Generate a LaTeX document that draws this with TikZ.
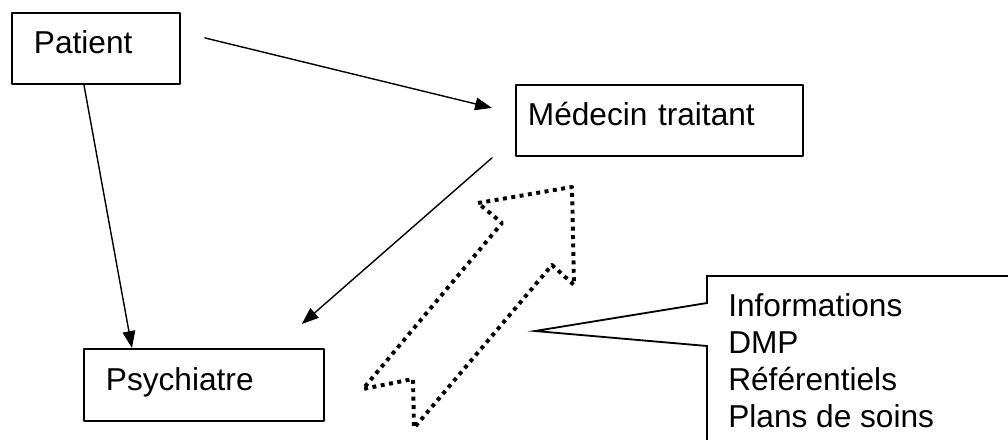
\documentclass[tikz,border=0pt]{standalone}
\usepackage{fontspec}
\setmainfont{Liberation Sans}
\usetikzlibrary{arrows.meta,positioning}

\begin{document}
\begin{tikzpicture}[line cap=round,line join=round,x=0.025cm,y=-0.025cm,
	every node/.style={font=\fontsize{22.5pt}{26.3pt}\selectfont},
	box/.style={draw,line width=1.3pt,anchor=north west,align=left,
		text height=15pt,text depth=7.5pt,minimum height=1.8cm},
	arr/.style={-{Triangle[length=12pt,width=9pt]},line width=1pt},
	dotarrow/.style={line width=2.8pt,line cap=butt,dash pattern=on 2.8pt off 3.2pt}]

\useasboundingbox (0,0) rectangle (1008,440);

% boxes
\node[box,inner xsep=0.55cm,text width=3.1cm,minimum height=1.775cm] (patient) at (11,12) {Patient};
\node[box,inner xsep=0.3cm,text width=6.575cm,minimum height=1.775cm] (medecin) at (515,84) {Médecin traitant};
\node[box,inner xsep=0.55cm,text width=4.9cm] (psychiatre) at (83,348) {Psychiatre};

% arrows between boxes
\draw[arr] ([shift={(24,-10.5)}]patient.east) -- ([shift={(-23,-12.5)}]medecin.west);
\draw[arr] ([shift={(-12,0)}]patient.south) -- ([shift={(-72,0)}]psychiatre.north);
\draw[arr] ([shift={(-23,1)}]medecin.south west) -- ([shift={(-23,-24)}]psychiatre.north east);

% dotted double arrow
\draw[dotarrow] (478,203) -- (572,187) -- (574,285) -- (552,265) -- (414,428)
	-- (413,379) -- (363,389) -- (502,223) -- cycle;

% callout
\draw[line width=1.3pt,line join=miter] (1012,276) -- (707,276) -- (707,303) -- (535,331)
	-- (707,346) -- (707,444);
\node[anchor=base west,align=left,inner sep=0pt] (infos) at (728,427)
	{Informations\\DMP\\Référentiels\\Plans de soins};
\end{tikzpicture}
\end{document}
